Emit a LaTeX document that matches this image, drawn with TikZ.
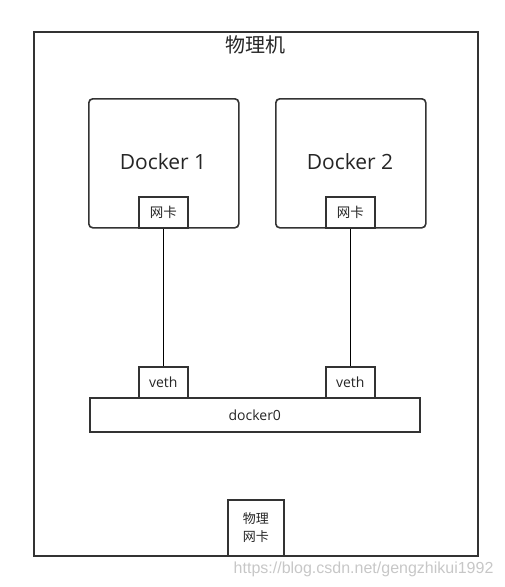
\documentclass[tikz,border=0pt]{standalone}
\usepackage{fontspec}
\setmainfont{Open Sans}
\newfontfamily\cjk{Noto Sans CJK SC}
\begin{document}
\begin{tikzpicture}[x=1pt,y=-1pt,
  box/.style={draw=black!80,line width=1.6pt,fill=white,inner sep=0pt,text=black!85},
  lnk/.style={draw=black,line width=1.6pt}]
\useasboundingbox (0,0) rectangle (505,587);
\node[box,minimum width=444pt,minimum height=524pt,anchor=north west] (host) at (33,31) {};
\node[text=black!85,font=\cjk\fontsize{20}{24}\selectfont] (title) at (255,45) {物理机};
\node[box,rounded corners=4pt,minimum width=150pt,minimum height=129pt,anchor=north west] (d1) at (88,98) {};
\node[text=black!85,font=\fontsize{21}{24}\selectfont] (t1) at (163,162) {Docker 1};
\node[box,rounded corners=4pt,minimum width=150pt,minimum height=129pt,anchor=north west] (d2) at (275,98) {};
\node[text=black!85,font=\fontsize{21}{24}\selectfont] (t2) at (350,162) {Docker 2};
\node[box,minimum width=49pt,minimum height=31pt,anchor=north west,font=\cjk\fontsize{13.5}{16}\selectfont] (n1) at (138,196) {网卡};
\node[box,minimum width=49pt,minimum height=31pt,anchor=north west,font=\cjk\fontsize{13.5}{16}\selectfont] (n2) at (325,196) {网卡};
\node[box,minimum width=49pt,minimum height=31pt,anchor=north west,font=\fontsize{14}{16}\selectfont] (v1) at (138,366) {veth};
\node[box,minimum width=49pt,minimum height=31pt,anchor=north west,font=\fontsize{14}{16}\selectfont] (v2) at (325,366) {veth};
\node[box,minimum width=330pt,minimum height=34pt,anchor=north west,font=\fontsize{14}{16}\selectfont] (br) at (89,397) {docker0};
\node[box,minimum width=56pt,minimum height=56pt,anchor=north west,align=center,font=\cjk\fontsize{13}{18}\selectfont] (pn) at (227,499) {物理\\网卡};
\draw[lnk] (n1.south) -- (v1.north);
\draw[lnk] (n2.south) -- (v2.north);
\node[text=black!22,font=\fontspec{Liberation Sans}\fontsize{16}{18}\selectfont,anchor=east] (wm) at (497,569) {https://blog.csdn.net/gengzhikui1992};
\end{tikzpicture}
\end{document}
